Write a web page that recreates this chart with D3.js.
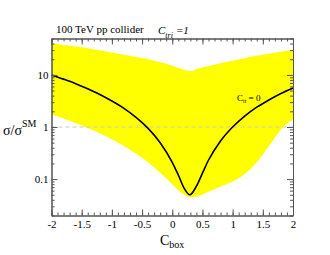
<!DOCTYPE html>
<html>
<head>
<meta charset="utf-8">
<script src="https://cdn.jsdelivr.net/npm/d3@7"></script>
<style>
  body { margin: 0; background: #fff; }
  .axis path { stroke: #555; }
  .axis line { stroke: #555; }
</style>
</head>
<body>
<svg width="330" height="255"></svg>
<script>
// values
var cbox     = [-2, -1.8, -1.6, -1.4, -1.2, -1, -0.8, -0.6, -0.4, -0.2, 0, 0.1, 0.2, 0.29, 0.4, 0.5, 0.6, 0.8, 1, 1.2, 1.4, 1.6, 1.8, 2];
var central  = [10, 8.3, 6.8, 5.4, 4.2, 3.15, 2.28, 1.53, 0.94, 0.5, 0.21, 0.12, 0.066, 0.05, 0.073, 0.13, 0.23, 0.54, 1.0, 1.62, 2.4, 3.3, 4.4, 5.6];
var bandX    = [-2, -1.6, -1.2, -0.8, -0.4, 0, 0.1, 0.2, 0.31, 0.4, 0.6, 0.8, 1, 1.2, 1.4, 1.6, 1.8, 2];
var bandHigh = [40, 35, 29.5, 24.5, 20, 15, 13.6, 12.6, 11.8, 12.8, 14.8, 16.8, 18.8, 21, 23.2, 25.5, 27.8, 30];
var bandLow  = [1.75, 1.18, 0.76, 0.43, 0.21, 0.08, 0.062, 0.05, 0.045, 0.046, 0.057, 0.072, 0.09, 0.125, 0.21, 0.43, 0.9, 1.4];
var xTicks   = [-2, -1.5, -1, -0.5, 0, 0.5, 1, 1.5, 2];
var xTickLabels = ["-2", "-1.5", "-1", "-0.5", "0", "0.5", "1", "1.5", "2"];
var yTicks   = [0.1, 1, 10];
var yTickLabels = ["0.1", "1", "10"];

var serif = "'Liberation Serif', 'Times New Roman', 'DejaVu Serif', serif";

var svg = d3.select("svg");
var mLeft = 51.5, mRight = 293, mTop = 38.5, mBottom = 215.5;

var x = d3.scaleLinear().domain([-2, 2]).range([mLeft, mRight]);
var y = d3.scaleLog().domain([0.02, 50]).range([mBottom, mTop]);

svg.append("clipPath").attr("id", "plot")
  .append("rect").attr("x", mLeft).attr("y", mTop)
  .attr("width", mRight - mLeft).attr("height", mBottom - mTop);

var g = svg.append("g").attr("clip-path", "url(#plot)");

var area = d3.area()
  .x(function(d, i) { return x(bandX[i]); })
  .y0(function(d, i) { return y(bandLow[i]); })
  .y1(function(d, i) { return y(bandHigh[i]); })
  .curve(d3.curveMonotoneX);

g.append("path").datum(bandX)
  .attr("d", area)
  .attr("fill", "#ffff00");

g.append("line")
  .attr("x1", mLeft).attr("x2", mRight)
  .attr("y1", y(1)).attr("y2", y(1))
  .attr("stroke", "#c8c8c8").attr("stroke-width", 1)
  .attr("stroke-dasharray", "4,3");

var line = d3.line()
  .x(function(d, i) { return x(cbox[i]); })
  .y(function(d, i) { return y(central[i]); })
  .curve(d3.curveMonotoneX);

g.append("path").datum(cbox)
  .attr("d", line)
  .attr("fill", "none")
  .attr("stroke", "#000")
  .attr("stroke-width", 1.6);

// minor ticks
var xMinor = d3.range(-20, 21).map(function(k) { return k / 10; });
var yMinor = [];
[0.01, 0.1, 1, 10].forEach(function(dec) {
  for (var m = 2; m <= 9; m++) { if (dec * m <= 50 && dec * m >= 0.02) yMinor.push(dec * m); }
});

function addAxis(axis, tx, ty) {
  var a = svg.append("g").attr("class", "axis")
    .attr("transform", "translate(" + tx + "," + ty + ")")
    .call(axis);
  a.attr("font-family", serif).attr("font-size", 11);
  a.selectAll("text").style("font-family", serif).style("font-size", "11px").attr("fill", "#000");
  return a;
}

addAxis(d3.axisBottom(x).tickValues(xMinor).tickSize(-3).tickFormat("").tickSizeOuter(0), 0, mBottom);
addAxis(d3.axisTop(x).tickValues(xMinor).tickSize(-3).tickFormat("").tickSizeOuter(0), 0, mTop);
addAxis(d3.axisLeft(y).tickValues(yMinor).tickSize(-3).tickFormat("").tickSizeOuter(0), mLeft, 0);
addAxis(d3.axisRight(y).tickValues(yMinor).tickSize(-3).tickFormat("").tickSizeOuter(0), mRight, 0);

addAxis(d3.axisBottom(x).tickValues(xTicks).tickSize(-6).tickPadding(5)
  .tickFormat(function(d, i) { return xTickLabels[i]; }).tickSizeOuter(0), 0, mBottom);
addAxis(d3.axisTop(x).tickValues(xTicks).tickSize(-6).tickFormat("").tickSizeOuter(0), 0, mTop);
addAxis(d3.axisLeft(y).tickValues(yTicks).tickSize(-6).tickPadding(3)
  .tickFormat(function(d, i) { return yTickLabels[i]; }).tickSizeOuter(0), mLeft, 0);
addAxis(d3.axisRight(y).tickValues(yTicks).tickSize(-6).tickFormat("").tickSizeOuter(0), mRight, 0);

// labels
function label(px, py, size) {
  return svg.append("text").attr("x", px).attr("y", py)
    .style("font-family", serif).style("font-size", size + "px");
}

label(56, 33, 11).text("100 TeV pp collider");

var ct = label(158, 34, 11).style("font-style", "italic");
ct.append("tspan").text("C");
ct.append("tspan").attr("dy", 4).style("font-size", "8px").text("tri");
ct.append("tspan").attr("dy", -4).attr("dx", 3).text("=1");

var ctt = label(237, 101, 9);
ctt.append("tspan").text("C");
ctt.append("tspan").attr("dy", 2).style("font-size", "6px").text("tt");
ctt.append("tspan").attr("dy", -2).text(" = 0");

var yl = label(3, 135, 14);
yl.append("tspan").text("σ/σ");
yl.append("tspan").attr("dy", -8).style("font-size", "10px").text("SM");

var xl = label(160, 245, 14);
xl.append("tspan").text("C");
xl.append("tspan").attr("dy", 3).style("font-size", "10px").text("box");
</script>
</body>
</html>
